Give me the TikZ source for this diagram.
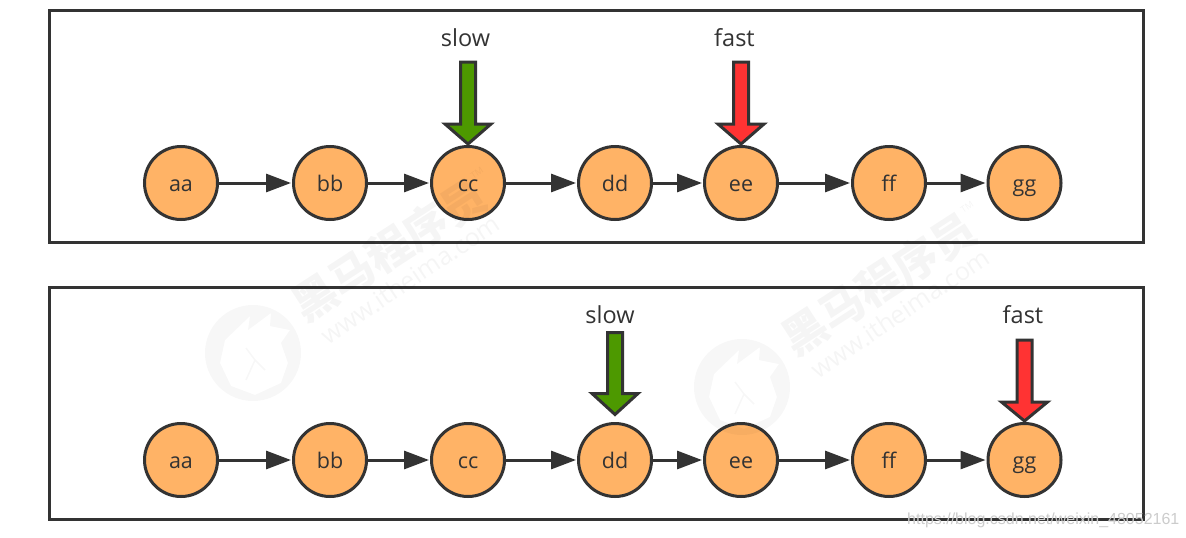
\documentclass[tikz,border=0pt]{standalone}
\usepackage{fontspec}
\setmainfont{Open Sans}
\newfontfamily\cjk{Noto Sans CJK SC}
\newfontfamily\urlfont{Liberation Sans}
\usetikzlibrary{arrows.meta}
\definecolor{ink}{HTML}{333333}
\definecolor{nodefill}{HTML}{FFB366}
\definecolor{slowgreen}{HTML}{4D9900}
\definecolor{fastred}{HTML}{FF3333}
\tikzset{
  x=1pt,y=-1pt,
  listitem/.style={circle,draw=ink,fill=nodefill,line width=3pt,minimum size=73pt,inner sep=0pt,text=ink,text height=19pt,text depth=2pt,font=\fontsize{21.5}{25}\selectfont},
  link/.style={draw=ink,line width=3pt,-{Triangle[length=25pt,width=18pt]},shorten >=1pt},
  frame/.style={draw=ink,line width=3pt},
  pointer/.style={draw=ink,line width=3pt,line join=miter},
  ptrlabel/.style={text=ink,font=\fontsize{23.5}{28}\selectfont},
  wmtext/.style={text=black,text opacity=.04,font=\cjk\bfseries\fontsize{44}{48}\selectfont,rotate=33},
  wmurl/.style={text=black,text opacity=.04,font=\fontsize{25}{29}\selectfont,rotate=34},
  wmtm/.style={text=black,text opacity=.04,font=\fontsize{9}{10}\selectfont,rotate=34},
  urlmark/.style={text=black!20,font=\urlfont\fontsize{16}{18}\selectfont,anchor=west,inner sep=0pt}
}
% pointer: top of shaft, top of head, tip, as offsets from the anchor
\newcommand{\ptrshape}[3]{(-7.5,#1) -- (7.5,#1) -- (7.5,#2) -- (23,#2) -- (0,#3) -- (-23,#2) -- (-7.5,#2) -- cycle}
\newcommand{\wmlogo}[1]{%
  \fill[black,opacity=.03,even odd rule,shift={(#1)}] (0,0) circle (48pt)
    (-33,10) -- (-28,-13) -- (-3,-37) -- (-5,-23) -- (18,-40) -- (17,-27) -- (37,-23) -- (28,-10) -- (35,10) -- (28,30) -- (2,42) -- (-22,33) -- cycle;
  \draw[black,opacity=.03,line width=1.5pt,shift={(#1)}] (-7,-5) -- (2,7) -- (12,17) (2,7) -- (-7,27);
}
\begin{document}
\begin{tikzpicture}
\useasboundingbox (0,0) rectangle (1186,538);
\fill[white] (0,0) rectangle (1186,538);
% frames
\node[frame,minimum width=1094pt,minimum height=232pt,inner sep=0pt] (top) at (596,126) {};
\node[frame,minimum width=1094pt,minimum height=232pt,inner sep=0pt] (bottom) at (596,403) {};
% lists
\foreach \n/\t/\x in {a/aa/181,b/bb/330,c/cc/468,d/dd/615,e/ee/741,f/ff/889,g/gg/1024.5}{
  \node[listitem] (t\n) at (\x,183) {\t};
  \node[listitem] (b\n) at (\x,460) {\t};
}
\foreach \r in {t,b}{
  \foreach \p/\q in {a/b,b/c,c/d,d/e,e/f,f/g}{
    \draw[link] (\r\p) -- (\r\q);
  }
}
% pointers
\draw[pointer,fill=slowgreen,shift={(tc.north)}] \ptrshape{-83}{-21}{-1};
\draw[pointer,fill=fastred,shift={(te.north)}] \ptrshape{-83}{-21}{-1};
\draw[pointer,fill=slowgreen,shift={(bd.north)}] \ptrshape{-89.5}{-28.5}{-7.5};
\draw[pointer,fill=fastred,shift={(bg.north)}] \ptrshape{-82}{-20}{-1};
\node[ptrlabel] (l1) at (465.5,38) {slow};
\node[ptrlabel] (l2) at (734.5,38) {fast};
\node[ptrlabel] (l3) at (610,315) {slow};
\node[ptrlabel] (l4) at (1023,315) {fast};
% watermarks lie over the drawing
\node[wmtext] (wa) at (389,250) {黑马程序员};
\node[wmurl] (wb) at (410,279) {www.itheima.com};
\node[wmtm] (wc) at (477,173) {TM};
\wmlogo{253,353}
\node[wmtext] (wd) at (879,284) {黑马程序员};
\node[wmurl] (we) at (900,313) {www.itheima.com};
\node[wmtm] (wf) at (967,207) {TM};
\wmlogo{742,387}
\node[urlmark] (u) at (907,520) {https://blog.csdn.net/weixin\_48052161};
\end{tikzpicture}
\end{document}
